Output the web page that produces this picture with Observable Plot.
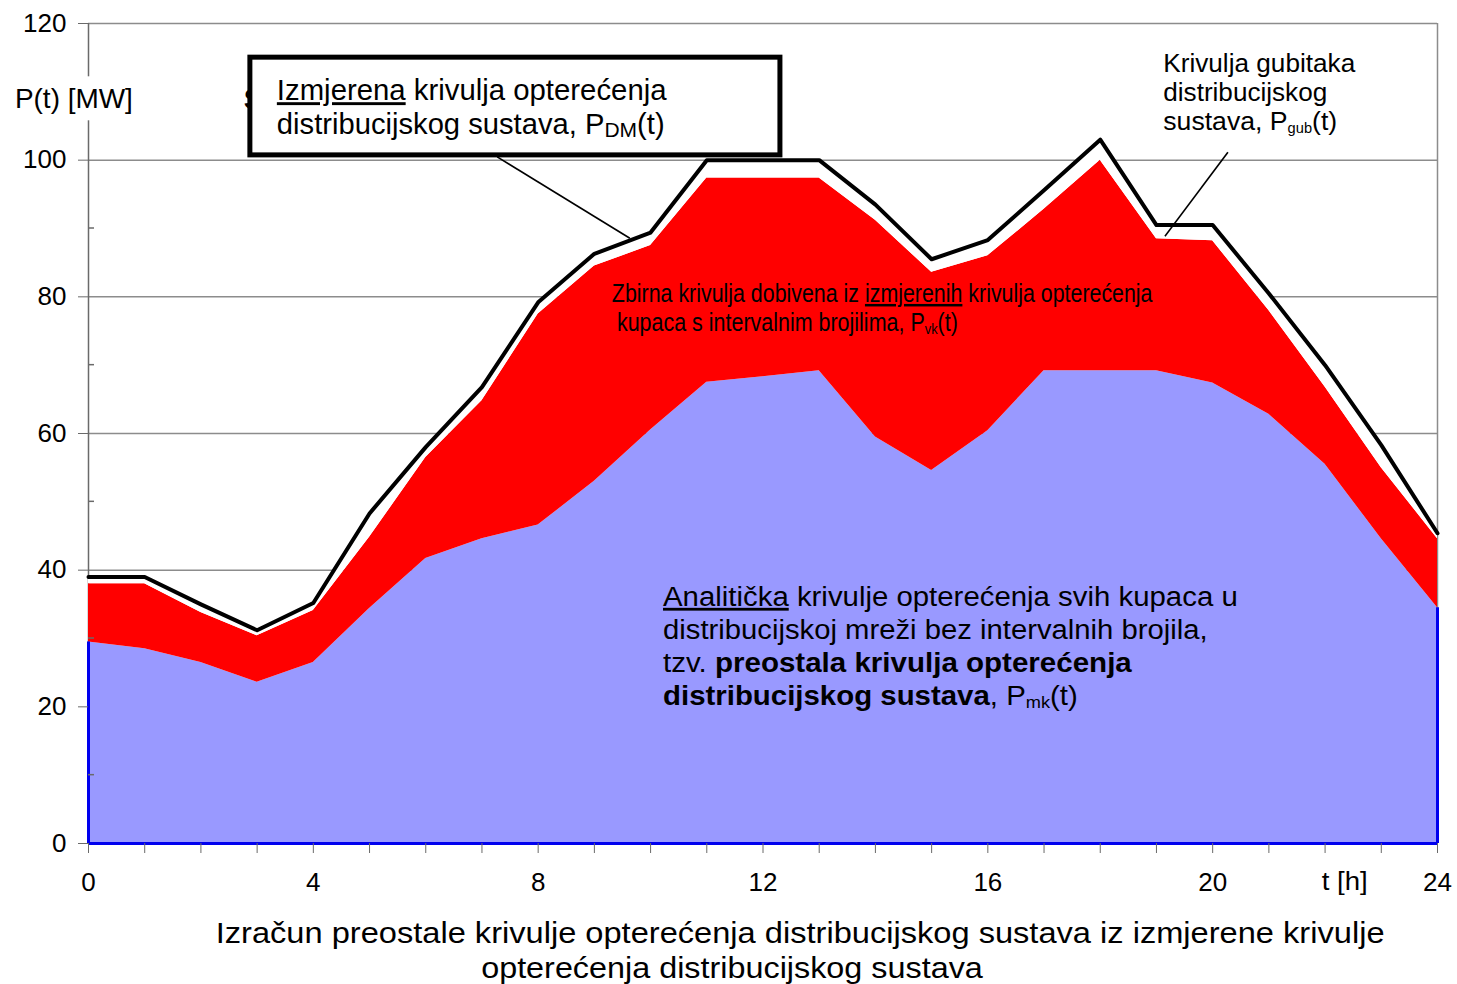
<!DOCTYPE html>
<html><head><meta charset="utf-8">
<script src="https://cdn.jsdelivr.net/npm/d3@7"></script>
<script src="https://cdn.jsdelivr.net/npm/@observablehq/plot@0.6"></script>
<style>body{margin:0;background:#fff} svg{display:block}</style>
</head><body><div id="chart"></div>
<script>
// ---- data ----
const hours = [0,1,2,3,4,5,6,7,8,9,10,11,12,13,14,15,16,17,18,19,20,21,22,23,24];
// measured distribution system load P_DM(t)
const pDM  = [39,39,35,31.2,35.2,48.3,58,66.8,79.2,86.3,89.4,100,100,100,93.5,85.5,88.3,95.6,103,90.5,90.5,80.5,70,58.3,45.4];
// P_mk(t) + P_vk(t) (top of red area)
const pSum = [38,38,33.8,30.4,34.1,44.8,56.5,64.8,77.5,84.5,87.5,97.4,97.4,97.4,91.2,83.6,86,92.8,100,88.5,88.2,78,66.8,55,44.6];
// residual load curve P_mk(t) (top of blue area)
const pMK  = [29.5,28.5,26.5,23.6,26.5,34.4,41.7,44.6,46.6,53,60.5,67.5,68.3,69.2,59.5,54.6,60.4,69.2,69.2,69.2,67.4,62.8,55.5,44.6,34.5];
const yTicks = [0,20,40,60,80,100,120];
const yGrid = [20,40,60,80,100,120];
const yMinorTicks = [10,30,50,70,90,110];
const xTickLabels = [0,4,8,12,16,20,24];

const rows = hours.map((h,i) => ({h, dm: pDM[i], sum: pSum[i], mk: pMK[i]}));
const ends = [rows[0], rows[rows.length-1]];
const FONT = "'Liberation Sans', Arial, sans-serif";

const plot = Plot.plot({
  width: 1457, height: 984,
  marginLeft: 88, marginRight: 20, marginTop: 23, marginBottom: 141,
  x: {domain: [0, 24]},
  y: {domain: [0, 120]},
  style: {fontFamily: FONT, fontSize: "26px", background: "white", color: "black"},
  marks: [
    Plot.gridY(yGrid, {stroke: "#8c8c8c", strokeOpacity: 1, strokeWidth: 1.5}),
    Plot.ruleX([24], {stroke: "#8c8c8c", strokeWidth: 1.5}),
    Plot.ruleX([0], {stroke: "#6a6a6a", strokeWidth: 1.5}),
    Plot.areaY(rows, {x: "h", y1: 0, y2: "mk", fill: "#9999ff"}),
    Plot.areaY(rows, {x: "h", y1: "mk", y2: "sum", fill: "#ff0000"}),
    Plot.areaY(rows, {x: "h", y1: "sum", y2: "dm", fill: "white"}),
    Plot.line(rows, {x: "h", y: "dm", stroke: "black", strokeWidth: 4}),
    Plot.ruleY([0], {stroke: "#0000ee", strokeWidth: 3}),
    Plot.ruleX(ends, {x: "h", y1: 0, y2: "mk", stroke: "#0000ee", strokeWidth: 3}),
    Plot.axisY(yTicks, {tickSize: 10, tickPadding: 12, label: null, stroke: "#6a6a6a", fontSize: 26}),
    Plot.axisX(hours, {tickSize: 10, tickPadding: 19, label: null, stroke: "#6a6a6a", fontSize: 26,
      tickFormat: d => xTickLabels.includes(d) ? String(d) : ""})
  ]
});
document.getElementById("chart").appendChild(plot);

// ---- annotations (anchored in data units through the plot scales) ----
const svg = d3.select(plot);
const xs = plot.scale("x"), ys = plot.scale("y");
const X = v => xs.apply(v), Y = v => ys.apply(v);

// minor ticks on the inside of the y axis
yMinorTicks.forEach(v => {
  svg.append("line").attr("x1", X(0)).attr("x2", X(0) + 6).attr("y1", Y(v)).attr("y2", Y(v))
    .attr("stroke", "#6a6a6a").attr("stroke-width", 1.5);
});

// rich text; horizontally scaled as a whole so it spans the reference's width
function rich(x, y, size, len, parts, anchor = "start") {
  const t = svg.append("text").attr("x", 0).attr("y", 0).attr("font-size", size)
    .attr("fill", "black").attr("font-family", FONT).attr("text-anchor", "start");
  let shift = 0;
  for (const p of parts) {
    const [s, o] = typeof p === "string" ? [p, {}] : p;
    const ts = t.append("tspan").text(s);
    const target = o.sub ? Math.round(size * 0.12) : 0;
    if (target !== shift) { ts.attr("dy", target - shift); shift = target; }
    if (o.sub) ts.attr("font-size", size * (o.small || 0.68));
    if (o.u) ts.attr("text-decoration", "underline");
    if (o.b) ts.attr("font-weight", "bold");
  }
  const natural = t.node().getComputedTextLength();
  const sx = len && natural > 0 ? len / natural : 1;
  const w = natural * sx;
  const x0 = anchor === "middle" ? x - w / 2 : x;
  t.attr("transform", `translate(${x0},${y}) scale(${sx},1)`);
  return t;
}
function line(a, b) {
  svg.append("line").attr("x1", X(a[0])).attr("y1", Y(a[1])).attr("x2", X(b[0])).attr("y2", Y(b[1]))
    .attr("stroke", "black").attr("stroke-width", 1.6);
}

// y-axis label with a white background that interrupts the axis line
svg.append("rect").attr("x", X(-1.35)).attr("y", Y(112.2)).attr("width", 126).attr("height", 44).attr("fill", "white");
rich(X(-1.3), Y(107.6), 27, 118, ["P(t) [MW]"]);
// x-axis label
rich(X(21.95), Y(-6.9), 26, 46, ["t [h]"]);

// boxed label for measured curve
rich(X(2.77), Y(107.4), 29, null, [["S", {b: true}]]);
svg.append("rect").attr("x", X(2.88)).attr("y", Y(115.0)).attr("width", X(12.31) - X(2.88))
  .attr("height", Y(100.7) - Y(115.0)).attr("fill", "white").attr("stroke", "black").attr("stroke-width", 5);
rich(X(3.36), Y(108.7), 29, 390, [["Izmjerena", {u: true}], " krivulja opterećenja"]);
rich(X(3.36), Y(103.8), 29, 388, ["distribucijskog sustava, P", ["DM", {sub: true, small: 0.72}], "(t)"]);
line([7.28, 100.4], [9.64, 88.5]);

// losses label
rich(X(19.13), Y(112.8), 25, 192, ["Krivulja gubitaka"]);
rich(X(19.13), Y(108.6), 25, 164, ["distribucijskog"]);
rich(X(19.13), Y(104.3), 25, 174, ["sustava, P", ["gub", {sub: true, small: 0.55}], "(t)"]);
line([20.28, 101.1], [19.16, 88.8]);

// red area label
rich(X(9.32), Y(79.2), 25, 541, ["Zbirna krivulja dobivena iz ", ["izmjerenih", {u: true}], " krivulja opterećenja"]);
rich(X(9.41), Y(74.9), 25, 341, ["kupaca s intervalnim brojilima, P", ["vk", {sub: true, small: 0.6}], "(t)"]);

// blue area label
rich(X(10.23), Y(34.7), 28, 575, [["Analitička", {u: true}], " krivulje opterećenja svih kupaca u"]);
rich(X(10.23), Y(29.9), 28, 545, ["distribucijskoj mreži bez intervalnih brojila,"]);
rich(X(10.23), Y(25.0), 28, 469, ["tzv. ", ["preostala krivulja opterećenja", {b: true}]]);
rich(X(10.23), Y(20.2), 28, 415, [["distribucijskog sustava", {b: true}], ", P", ["mk", {sub: true, small: 0.62}], "(t)"]);

// caption below the chart
rich(X(12.67), Y(-14.6), 30, 1169, ["Izračun preostale krivulje opterećenja distribucijskog sustava iz izmjerene krivulje"], "middle");
rich(X(11.46), Y(-19.8), 30, 502, ["opterećenja distribucijskog sustava"], "middle");
</script>
</body></html>
